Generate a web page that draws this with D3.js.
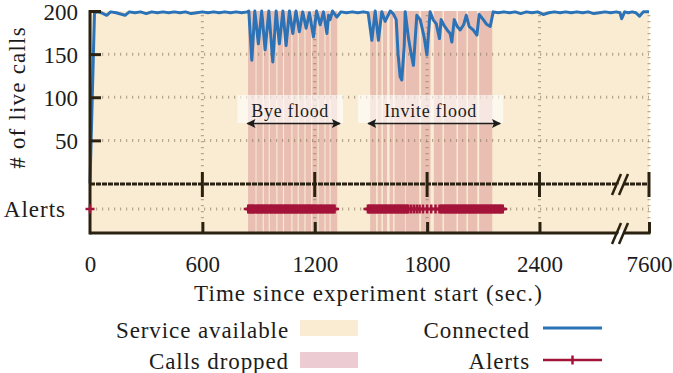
<!DOCTYPE html>
<html>
<head>
<meta charset="utf-8">
<script src="https://cdn.jsdelivr.net/npm/d3@7"></script>
<style>
  body { margin: 0; background: #fff; }
</style>
</head>
<body>
<div id="chart"></div>
<script>
// ---- data ----
const xTicks = [0, 600, 1200, 1800, 2400, 7600];
const yTicks = [50, 100, 150, 200];

// live calls over time (sec, # calls)
const connTime = [0, 24, 40, 60, 89, 110, 140, 187, 210, 240, 270, 300, 330, 360, 390, 420, 450, 480, 510, 540,
  570, 600, 630, 660, 690, 720, 750, 780, 810, 840,
  848, 864, 880, 899, 917, 935, 955, 976, 994, 1011, 1030, 1047, 1065, 1083, 1100, 1118, 1136, 1154, 1172, 1193,
  1210, 1229, 1247, 1265, 1274, 1282, 1295, 1318, 1340, 1370, 1400, 1430, 1460, 1485,
  1505, 1523, 1540, 1558, 1576, 1603, 1619, 1635, 1645, 1656, 1665, 1678, 1683, 1701, 1715, 1727, 1745, 1763,
  1784, 1799, 1816, 1832, 1849, 1866, 1875, 1891, 1907, 1923, 1932, 1945, 1961, 1977, 1995, 2009, 2025, 2046,
  2066, 2078, 2100, 2116, 2137, 2153,
  2180, 2210, 2240, 2270, 2300, 2330, 2360, 2390, 2420, 2450, 2480, 2510, 2540, 2570, 2600, 2630, 2660, 2690,
  2720, 2750, 2780, 2810, 2830,
  7454, 7470, 7490, 7510, 7530, 7549, 7570, 7600];
const connCalls = [0, 198, 199, 198, 195, 199, 198, 195, 199, 198, 199, 197, 199, 198, 199, 198, 199, 198, 199, 197,
  198, 199, 198, 199, 198, 199, 198, 199, 198, 199,
  200, 143, 200, 162, 200, 155, 200, 141, 200, 162, 200, 160, 200, 174, 200, 176, 199, 180, 198, 170,
  200, 184, 199, 174, 195, 190, 200, 193, 199, 198, 199, 198, 199, 198,
  166, 200, 166, 199, 188, 200, 197, 190, 150, 124, 120, 160, 199, 168, 150, 137, 195, 190,
  170, 149, 199, 190, 185, 168, 190, 183, 178, 174, 164, 190, 182, 178, 184, 195, 182, 178,
  172, 196, 190, 185, 182, 199,
  198, 199, 198, 199, 197, 199, 198, 199, 196, 198, 199, 198, 199, 198, 199, 198, 199, 197,
  198, 199, 198, 199, 198,
  191, 199, 198, 199, 198, 194, 199, 199];

// periods where calls were dropped [start, end] (sec)
const droppedStart = [844, 889, 928, 960, 1001, 1036, 1081, 1115, 1151, 1187, 1221, 1258, 1285,
  1496, 1536, 1564, 1600, 1626, 1686, 1768, 1836, 1890, 1965, 2018, 2078];
const droppedEnd = [884, 922, 954, 995, 1030, 1075, 1109, 1145, 1181, 1215, 1252, 1279, 1320,
  1528, 1556, 1586, 1618, 1682, 1758, 1818, 1882, 1957, 2010, 2068, 2148];

// alert times (sec), one list per burst
const alertsStart = [0];
const alertsBye = [845, 852, 858, 864, 870, 876, 884, 892, 898, 905, 912, 918, 925, 932, 938, 945, 952, 960, 966,
  972, 980, 986, 993, 1000, 1006, 1013, 1020, 1026, 1034, 1040, 1046, 1053, 1060, 1066, 1073, 1080, 1086, 1093,
  1100, 1106, 1113, 1120, 1127, 1134, 1140, 1147, 1154, 1160, 1167, 1174, 1181, 1188, 1195, 1202, 1210, 1218,
  1226, 1234, 1242, 1250, 1258, 1266, 1274, 1282, 1290, 1298, 1306];
const alertsInvite = [1484, 1490, 1497, 1504, 1511, 1518, 1525, 1532, 1539, 1546, 1553, 1560, 1567, 1574, 1581,
  1588, 1595, 1602, 1609, 1616, 1623, 1630, 1637, 1644, 1651, 1658, 1665, 1672, 1679, 1686, 1693, 1700, 1715,
  1730, 1745, 1760, 1778, 1800, 1822, 1845, 1866, 1875, 1882, 1889, 1896, 1903, 1910, 1917, 1924, 1931, 1938,
  1945, 1952, 1959, 1966, 1973, 1980, 1987, 1994, 2001, 2008, 2015, 2022, 2029, 2036, 2043, 2050, 2057, 2064,
  2071, 2078, 2085, 2092, 2099, 2106, 2113, 2120, 2127, 2134, 2141, 2148, 2155, 2162, 2169, 2176, 2183, 2190,
  2197, 2204];

// annotated attack windows
const floodNames = ['Bye flood', 'Invite flood'];
const floodStart = [840, 1485];
const floodEnd = [1335, 2190];

// ---- drawing ----
const W = 673, H = 373;
const font = '"Liberation Serif", serif';
const ink = '#1c1c1c';
const dark = '#2b2111';
const beige = '#f9ecd2';
const dropColor = '#c0566a';
const blue = '#2b72b6';
const red = '#a4143a';
const gridColor = '#8c7a62';

const svg = d3.select('#chart').append('svg')
  .attr('width', W).attr('height', H)
  .attr('font-family', font);

// broken time axis: 0..2830 then jump to 7445..7600
const x = d3.scaleLinear()
  .domain([0, 2830, 7445, 7600])
  .range([90, 620, 620, 649]);
const y = d3.scaleLinear().domain([0, 200]).range([183.5, 11]);

const panelTop = 184, panelBottom = 233, alertY = 209;
const xLeft = x(0), xRight = x(7600);

// service available background
svg.append('rect')
  .attr('x', xLeft).attr('y', y(200))
  .attr('width', xRight - xLeft).attr('height', panelBottom - y(200))
  .attr('fill', beige);

// calls dropped
svg.append('g').selectAll('rect')
  .data(droppedStart.map((s, i) => [s, droppedEnd[i]]))
  .join('rect')
  .attr('x', d => x(d[0]))
  .attr('y', y(200))
  .attr('width', d => x(d[1]) - x(d[0]))
  .attr('height', panelBottom - y(200))
  .attr('fill', dropColor)
  .attr('fill-opacity', 0.3);

// grid
const grid = svg.append('g')
  .attr('stroke', gridColor).attr('stroke-opacity', 0.6)
  .attr('stroke-width', 3).attr('stroke-dasharray', '1.2,4.8');
grid.selectAll('.hg').data(yTicks.filter(v => v < 200))
  .join('line')
  .attr('x1', xLeft + 12).attr('x2', xRight)
  .attr('y1', d => y(d)).attr('y2', d => y(d));
grid.append('line')
  .attr('x1', xLeft + 6).attr('x2', xRight)
  .attr('y1', alertY).attr('y2', alertY);
grid.selectAll('.vg').data(xTicks.filter(v => v > 0))
  .join('line')
  .attr('x1', d => x(d)).attr('x2', d => x(d))
  .attr('y1', y(200) + 4).attr('y2', panelTop - 13);
grid.selectAll('.vg2').data(xTicks.filter(v => v > 0))
  .join('line')
  .attr('x1', d => x(d)).attr('x2', d => x(d))
  .attr('y1', panelTop + 15).attr('y2', panelBottom - 12);

// connected calls line
const conn = connTime.map((t, i) => [t, connCalls[i]]);
svg.append('path')
  .datum(conn)
  .attr('fill', 'none')
  .attr('stroke', blue)
  .attr('stroke-width', 3)
  .attr('stroke-linejoin', 'round')
  .attr('d', d3.line().x(d => x(d[0])).y(d => y(d[1])));

// annotations
const defs = svg.append('defs');
defs.append('marker')
  .attr('id', 'ah').attr('viewBox', '0 0 10 10')
  .attr('refX', 9).attr('refY', 5)
  .attr('markerUnits', 'userSpaceOnUse')
  .attr('markerWidth', 10).attr('markerHeight', 9)
  .attr('orient', 'auto-start-reverse')
  .append('path').attr('d', 'M0,0 L10,5 L0,10 L2,5 Z').attr('fill', ink);

const ann = svg.append('g').selectAll('g')
  .data(floodNames.map((n, i) => ({ name: n, s: floodStart[i], e: floodEnd[i] })))
  .join('g');
ann.append('rect')
  .attr('x', d => x(d.s) - 10)
  .attr('y', 95)
  .attr('width', d => x(d.e) - x(d.s) + 13)
  .attr('height', 28)
  .attr('fill', '#fff').attr('fill-opacity', 0.62);
ann.append('line')
  .attr('x1', d => x(d.s)).attr('x2', d => x(d.e))
  .attr('y1', 123.5).attr('y2', 123.5)
  .attr('stroke', ink).attr('stroke-width', 1.6)
  .attr('marker-start', 'url(#ah)').attr('marker-end', 'url(#ah)');
ann.append('text')
  .attr('x', d => (x(d.s) - 10 + x(d.e) + 3) / 2)
  .attr('y', 117)
  .attr('text-anchor', 'middle')
  .attr('font-size', 18).attr('letter-spacing', 0.7).attr('fill', ink)
  .text(d => d.name);

// axes frame
svg.append('line')
  .attr('x1', xLeft).attr('x2', xLeft)
  .attr('y1', y(200) - 1).attr('y2', panelBottom + 1.5)
  .attr('stroke', dark).attr('stroke-width', 3);
svg.append('line')
  .attr('x1', xLeft).attr('x2', xRight)
  .attr('y1', panelTop).attr('y2', panelTop)
  .attr('stroke', dark).attr('stroke-width', 3)
  .attr('stroke-dasharray', '5,1');
svg.append('line')
  .attr('x1', xLeft).attr('x2', xRight + 1.5)
  .attr('y1', panelBottom).attr('y2', panelBottom)
  .attr('stroke', dark).attr('stroke-width', 3);

// y axis ticks and labels
const yAxis = svg.append('g')
  .attr('transform', `translate(${xLeft},0)`)
  .call(d3.axisLeft(y).tickValues(yTicks).tickSize(-11).tickPadding(12));
yAxis.select('.domain').remove();
yAxis.selectAll('.tick line').attr('stroke', dark).attr('stroke-width', 3);
yAxis.attr('font-family', font).attr('font-size', 23);
yAxis.selectAll('.tick text').attr('fill', ink).attr('dy', '0.36em');

// x ticks across the alert panel
svg.append('g').selectAll('line')
  .data(xTicks.filter(v => v > 0))
  .join('line')
  .attr('x1', d => x(d)).attr('x2', d => x(d))
  .attr('y1', panelTop - 12).attr('y2', panelTop + 13)
  .attr('stroke', dark).attr('stroke-width', 3);

const xAxis = svg.append('g')
  .attr('transform', `translate(0,${panelBottom})`)
  .call(d3.axisBottom(x).tickValues(xTicks).tickSize(-11).tickPadding(23).tickFormat(d3.format('d')));
xAxis.select('.domain').remove();
xAxis.attr('font-family', font).attr('font-size', 23);
xAxis.selectAll('.tick line').attr('stroke', dark).attr('stroke-width', 3)
  .filter(d => d === 0).remove();
xAxis.selectAll('.tick text').attr('fill', ink);

// axis break marks
const xb = x(2830);
[[panelTop, beige], [panelBottom, '#fff']].forEach(([cy, gap]) => {
  svg.append('polygon')
    .attr('points', [[xb - 2.5, cy + 3], [xb + 2.5, cy + 3], [xb + 4.5, cy - 3], [xb - 0.5, cy - 3]].join(' '))
    .attr('fill', gap);
  [-3.5, 3.5].forEach(dx => {
    svg.append('line')
      .attr('x1', xb + dx - 4.5).attr('y1', cy + 11)
      .attr('x2', xb + dx + 4.5).attr('y2', cy - 10)
      .attr('stroke', dark).attr('stroke-width', 2.5);
  });
});

// alerts
const alertGroups = [alertsStart, alertsBye, alertsInvite];
const ag = svg.append('g');
ag.selectAll('path.al')
  .data(alertGroups)
  .join('path')
  .attr('fill', 'none').attr('stroke', red).attr('stroke-width', 2.5)
  .attr('d', d3.line().x(t => x(t)).y(alertY));
ag.selectAll('path.mk')
  .data(alertGroups.flat())
  .join('path')
  .attr('stroke', red).attr('stroke-width', 2.5)
  .attr('d', t => `M${x(t) - 4.5},${alertY}h9M${x(t)},${alertY - 4.5}v9`);

// axis titles
svg.append('text')
  .attr('transform', `translate(25,${(y(200) + panelTop) / 2}) rotate(-90)`)
  .attr('text-anchor', 'middle')
  .attr('font-size', 23).attr('letter-spacing', 1.2).attr('fill', ink)
  .text('# of live calls');
svg.append('text')
  .attr('x', 66).attr('y', alertY + 8)
  .attr('text-anchor', 'end')
  .attr('font-size', 23).attr('letter-spacing', 1).attr('fill', ink)
  .text('Alerts');
svg.append('text')
  .attr('x', (xLeft + xRight) / 2 - 1).attr('y', 301)
  .attr('text-anchor', 'middle')
  .attr('font-size', 23).attr('letter-spacing', 1.1).attr('fill', ink)
  .text('Time since experiment start (sec.)');

// legend
const legend = svg.append('g');
const legendText = (tx, ty, label) => legend.append('text')
  .attr('x', tx).attr('y', ty)
  .attr('text-anchor', 'end')
  .attr('font-size', 23).attr('letter-spacing', 0.9).attr('fill', ink)
  .text(label);
legendText(289, 338, 'Service available');
legendText(289, 369, 'Calls dropped');
legendText(530, 338, 'Connected');
legendText(530, 369, 'Alerts');
legend.append('rect').attr('x', 300).attr('y', 320).attr('width', 58).attr('height', 16)
  .attr('fill', beige);
legend.append('rect').attr('x', 300).attr('y', 352).attr('width', 58).attr('height', 16)
  .attr('fill', dropColor).attr('fill-opacity', 0.3);
legend.append('line').attr('x1', 543).attr('x2', 602).attr('y1', 328).attr('y2', 328)
  .attr('stroke', blue).attr('stroke-width', 3);
legend.append('line').attr('x1', 543).attr('x2', 602).attr('y1', 360).attr('y2', 360)
  .attr('stroke', red).attr('stroke-width', 2.5);
legend.append('path').attr('d', 'M572.5,355.5v9')
  .attr('stroke', red).attr('stroke-width', 2.5);
</script>
</body>
</html>
